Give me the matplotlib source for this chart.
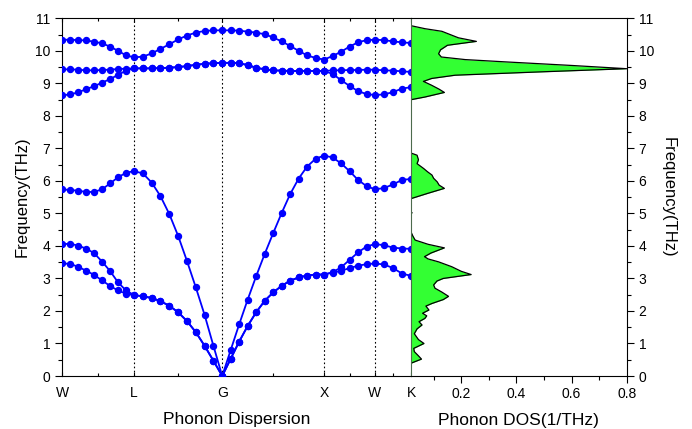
import numpy as np
import matplotlib
matplotlib.use("Agg")
import matplotlib.pyplot as plt
from matplotlib.ticker import MultipleLocator

plt.rcParams['font.family'] = ['Liberation Sans', 'DejaVu Sans']

# k-path W-L-G-X-W-K (fcc, units of 2pi/a) and number of k-intervals per segment
kpts = [(1, .5, 0), (.5, .5, .5), (0, 0, 0), (1, 0, 0), (1, .5, 0), (.75, .75, 0)]
klabels = ["W", "L", "G", "X", "W", "K"]
nseg = [9, 10, 12, 6, 4]

# phonon branches (THz), points along W-L | L-G | G-X | X-W | W-K
band1 = [3.46, 3.45, 3.36, 3.24, 3.11, 2.94, 2.77, 2.63, 2.53, 2.49,
         2.45, 2.40, 2.30, 2.16, 1.96, 1.69, 1.35, 0.93, 0.47, 0.0,
         0.53, 1.06, 1.54, 1.96, 2.31, 2.57, 2.77, 2.93, 3.03, 3.09, 3.12, 3.12,
         3.18, 3.23, 3.32, 3.39, 3.44, 3.46,
         3.43, 3.32, 3.15, 3.08]
band2 = [4.05, 4.07, 4.01, 3.92, 3.78, 3.52, 3.23, 2.88, 2.63, 2.49,
         2.45, 2.40, 2.30, 2.16, 1.96, 1.69, 1.35, 0.93, 0.47, 0.0,
         0.53, 1.06, 1.54, 1.96, 2.31, 2.57, 2.77, 2.93, 3.03, 3.09, 3.12, 3.12,
         3.19, 3.34, 3.57, 3.80, 3.98, 4.06,
         4.02, 3.95, 3.92, 3.91]
band3 = [5.74, 5.72, 5.70, 5.66, 5.66, 5.74, 5.92, 6.11, 6.25, 6.30,
         6.23, 5.95, 5.53, 4.98, 4.31, 3.54, 2.73, 1.88, 0.93, 0.0,
         0.80, 1.59, 2.35, 3.07, 3.75, 4.39, 5.01, 5.59, 6.07, 6.44, 6.68, 6.78,
         6.72, 6.54, 6.30, 6.03, 5.84, 5.74,
         5.78, 5.89, 6.03, 6.06]
band4 = [8.63, 8.66, 8.72, 8.82, 8.91, 9.02, 9.13, 9.26, 9.39, 9.46,
         9.46, 9.46, 9.47, 9.48, 9.50, 9.53, 9.57, 9.60, 9.62, 9.63,
         9.63, 9.62, 9.56, 9.48, 9.43, 9.40, 9.39, 9.38, 9.38, 9.38, 9.38, 9.38,
         9.29, 9.10, 8.92, 8.76, 8.67, 8.64,
         8.66, 8.73, 8.84, 8.88]
band5 = [9.43, 9.43, 9.42, 9.40, 9.40, 9.41, 9.42, 9.44, 9.45, 9.46,
         9.46, 9.46, 9.47, 9.48, 9.50, 9.53, 9.57, 9.60, 9.62, 9.63,
         9.63, 9.62, 9.56, 9.48, 9.43, 9.40, 9.39, 9.38, 9.38, 9.38, 9.38, 9.38,
         9.40, 9.40, 9.41, 9.41, 9.42, 9.42,
         9.40, 9.39, 9.37, 9.35]
band6 = [10.34, 10.34, 10.33, 10.32, 10.28, 10.23, 10.13, 10.00, 9.86, 9.80,
         9.82, 9.92, 10.06, 10.20, 10.35, 10.47, 10.56, 10.61, 10.63, 10.63,
         10.63, 10.62, 10.59, 10.56, 10.51, 10.41, 10.29, 10.15, 10.00, 9.86, 9.78, 9.73,
         9.84, 9.97, 10.13, 10.26, 10.33, 10.34,
         10.33, 10.29, 10.26, 10.24]

# phonon DOS (1/THz) vs frequency
dos_freq = [0.00, 0.30, 0.40, 0.52, 0.62, 0.75, 0.85, 1.00, 1.12, 1.30, 1.45, 1.57, 1.67, 1.77,
            1.85, 1.93, 2.03, 2.15, 2.23, 2.35, 2.45, 2.58, 2.70, 2.80, 2.92, 3.00, 3.12, 3.22,
            3.36, 3.51, 3.60, 3.67, 3.78, 3.94, 4.05, 4.18, 4.30, 4.43, 4.50, 4.95, 5.02, 5.08,
            5.40, 5.46, 5.62, 5.77, 5.87, 5.97, 6.08, 6.18, 6.28, 6.38, 6.53, 6.65, 6.79, 6.85,
            6.90, 8.45, 8.50, 8.58, 8.72, 8.82, 8.94, 9.06, 9.15, 9.25, 9.35, 9.45, 9.55, 9.66,
            9.73, 9.81, 9.91, 10.03, 10.17, 10.29, 10.40, 10.48, 10.60, 10.68, 10.76, 10.80, 11.0]
dos_val = [0.0, 0.0, 0.02, 0.056, 0.045, 0.03, 0.028, 0.065, 0.045, 0.03, 0.04, 0.058, 0.047, 0.068,
           0.075, 0.060, 0.083, 0.072, 0.094, 0.135, 0.154, 0.13, 0.105, 0.100, 0.112, 0.135, 0.236, 0.20,
           0.166, 0.118, 0.08, 0.067, 0.09, 0.139, 0.08, 0.033, 0.025, 0.018, 0.0, 0.0, 0.022, 0.0,
           0.0, 0.02, 0.08, 0.139, 0.12, 0.113, 0.10, 0.094, 0.078, 0.064, 0.040, 0.045, 0.040, 0.02,
           0.0, 0.0, 0.02, 0.069, 0.139, 0.12, 0.093, 0.063, 0.093, 0.178, 0.48, 0.80, 0.60, 0.36,
           0.215, 0.128, 0.118, 0.125, 0.15, 0.255, 0.19, 0.166, 0.13, 0.069, 0.025, 0.0, 0.0]

# cumulative k distance
kp = np.array(kpts, float)
seglen = np.linalg.norm(np.diff(kp, axis=0), axis=1)
ktick = np.concatenate([[0], np.cumsum(seglen)])
kx = [0.0]
for i, n in enumerate(nseg):
    kx += list(np.linspace(ktick[i], ktick[i + 1], n + 1)[1:])
kx = np.array(kx)

fig = plt.figure(figsize=(6.92, 4.29), dpi=100)
ax1 = fig.add_axes([62/692, 53/429, (411-62)/692, 357.7/429])
ax2 = fig.add_axes([411/692, 53/429, (626.7-411)/692, 357.7/429])

for b in [band1, band2, band3, band4, band5, band6]:
    ax1.plot(kx, b, color="#0000ff", lw=1.3, marker="o", ms=4.3, zorder=3)
for x in ktick[1:-1]:
    ax1.axvline(x, color="k", lw=0.8, ls=(0, (1.5, 2.2)), zorder=1)
ax1.set_xlim(ktick[0], ktick[-1]); ax1.set_ylim(0, 11)
ax1.set_xticks(ktick); ax1.set_xticklabels(klabels)
ax1.set_xticks((ktick[:-1] + ktick[1:]) / 2, minor=True)
ax1.yaxis.set_major_locator(MultipleLocator(1)); ax1.yaxis.set_minor_locator(MultipleLocator(0.5))
ax1.tick_params(axis="x", which="both", direction="in", top=True, length=3, width=0.8, pad=7, labelsize=10)
ax1.tick_params(axis="x", which="minor", length=2)
ax1.tick_params(axis="y", which="major", direction="out", length=5, width=0.8, labelsize=10)
ax1.tick_params(axis="y", which="minor", direction="out", length=3, width=0.8)
ax1.spines["right"].set_visible(False)
ax1.set_xlabel("Phonon Dispersion", fontsize=12.5, labelpad=8.5)
ax1.set_ylabel("Frequency(THz)", fontsize=12, labelpad=4)

ax2.fill_betweenx(dos_freq, 0, dos_val, color="#33ff33", lw=0, zorder=1)
ax2.plot(dos_val, dos_freq, color="k", lw=0.9, zorder=2)
ax2.set_xlim(0.018, 0.8); ax2.set_ylim(0, 11)
ax2.set_xticks([0.2, 0.4, 0.6, 0.8]); ax2.xaxis.set_minor_locator(MultipleLocator(0.1))
ax2.yaxis.set_major_locator(MultipleLocator(1)); ax2.yaxis.set_minor_locator(MultipleLocator(0.5))
ax2.yaxis.tick_right(); ax2.yaxis.set_label_position("right")
ax2.tick_params(axis="x", which="major", direction="out", length=5, width=0.8, pad=3, labelsize=10)
ax2.tick_params(axis="x", which="minor", direction="out", length=3, width=0.8)
ax2.tick_params(axis="y", which="major", direction="out", length=5, width=0.8, labelsize=10, right=True, left=False)
ax2.tick_params(axis="y", which="minor", direction="out", length=3, width=0.8, right=True, left=False)
ax2.spines["left"].set_color("#4d6b4d")
ax2.set_xlabel("Phonon DOS(1/THz)", fontsize=12.5, labelpad=8.5)
ax2.set_ylabel("Frequency(THz)", fontsize=12, rotation=270, labelpad=16)

fig.savefig("out.png", dpi=100)
